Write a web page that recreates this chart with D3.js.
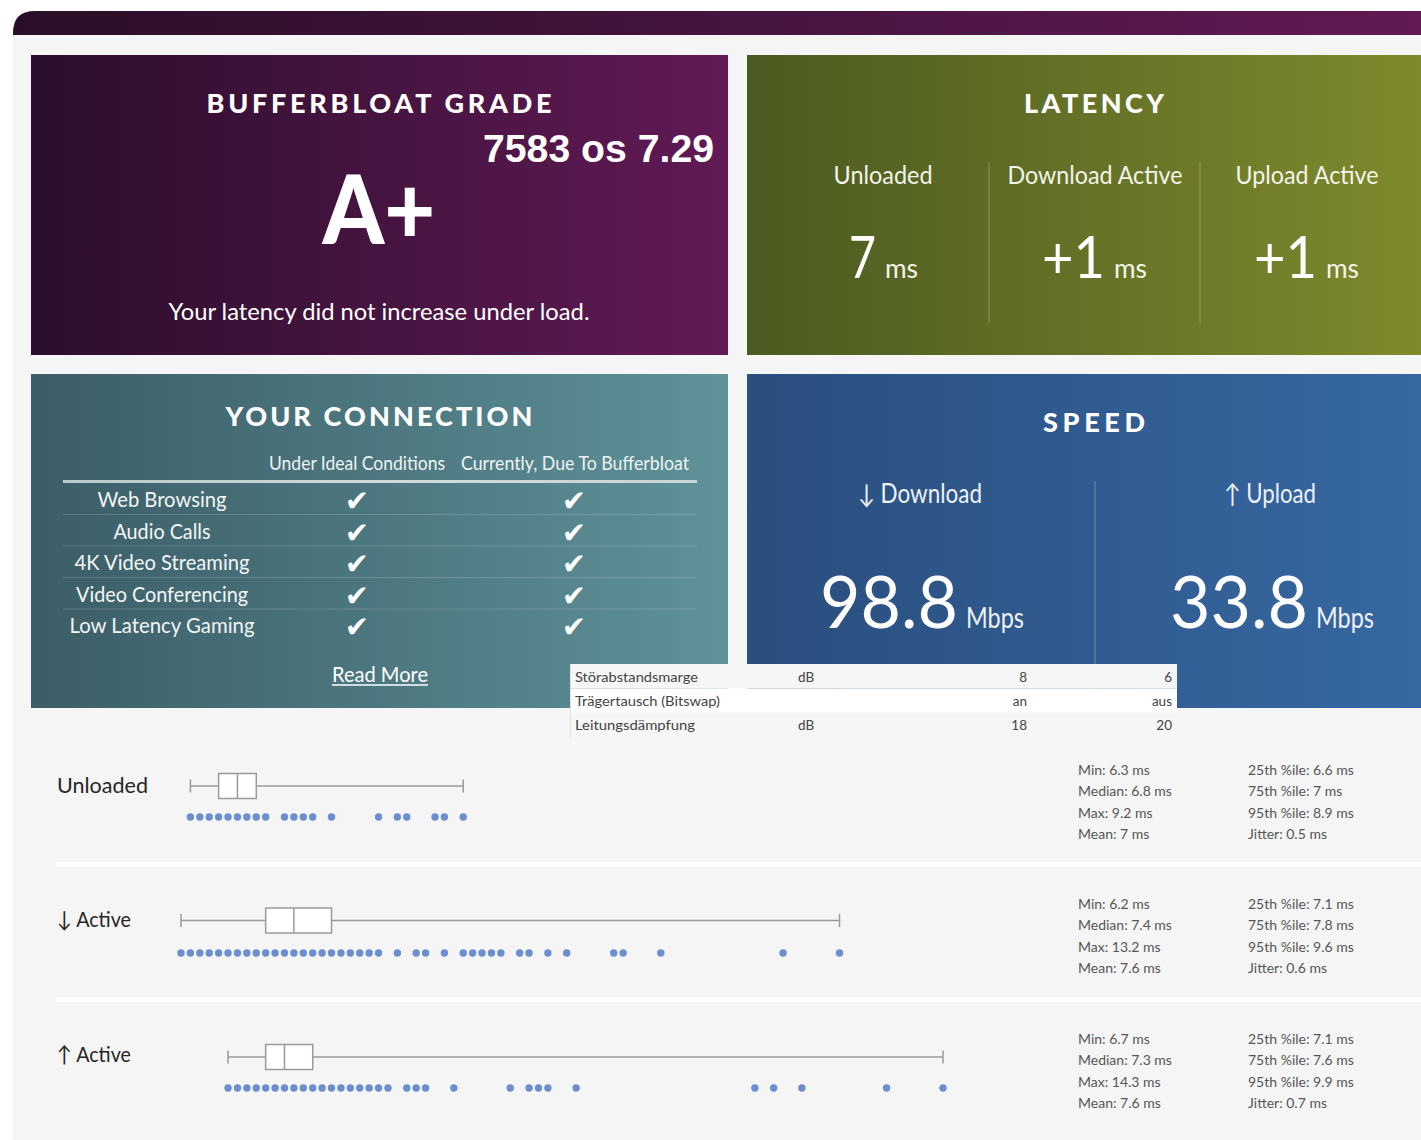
<!DOCTYPE html>
<html><head><meta charset="utf-8">
<script src="https://cdn.jsdelivr.net/npm/d3@7"></script>
<style>html,body{margin:0;padding:0;background:#fff;overflow:hidden}</style>
</head><body><svg id="c" width="1421" height="1140"></svg>
<script>
// ---------------- DATA ----------------
const gradeTitle = "BUFFERBLOAT GRADE";
const gradeLetter = "A+";
const gradeNote = "Your latency did not increase under load.";
const overlayText = "7583 os 7.29";

const latencyTitle = "LATENCY";
const latencyLabels = ["Unloaded", "Download Active", "Upload Active"];
const latencyValues = ["7", "+1", "+1"];
const latencyUnit = "ms";

const connectionTitle = "YOUR CONNECTION";
const connectionHeaders = ["Under Ideal Conditions", "Currently, Due To Bufferbloat"];
const connectionTasks = ["Web Browsing", "Audio Calls", "4K Video Streaming", "Video Conferencing", "Low Latency Gaming"];
const idealOk = [true, true, true, true, true];
const currentOk = [true, true, true, true, true];
const readMore = "Read More";

const speedTitle = "SPEED";
const speedLabels = ["↓ Download", "↑ Upload"];
const speedValues = ["98.8", "33.8"];
const speedUnit = "Mbps";

const lineParams = ["Störabstandsmarge", "Trägertausch (Bitswap)", "Leitungsdämpfung"];
const lineUnits = ["dB", "", "dB"];
const lineDown = ["8", "an", "18"];
const lineUp = ["6", "aus", "20"];

const rowLabels = ["Unloaded", "↓ Active", "↑ Active"];
const unloadedSamples = [6.3, 6.4, 6.5, 6.6, 6.7, 6.8, 6.9, 7.0, 7.1, 7.3, 7.4, 7.5, 7.6, 7.8, 8.3, 8.5, 8.6, 8.9, 9.0, 9.2];
const downloadSamples = [6.2, 6.3, 6.4, 6.5, 6.6, 6.7, 6.8, 6.9, 7.0, 7.1, 7.2, 7.3, 7.4, 7.5, 7.6, 7.7, 7.8, 7.9, 8.0, 8.1, 8.2, 8.3,
  8.5, 8.7, 8.8, 9.0, 9.2, 9.3, 9.4, 9.5, 9.6, 9.8, 9.9, 10.1, 10.3, 10.8, 10.9, 11.3, 12.6, 13.2];
const uploadSamples = [6.7, 6.8, 6.9, 7.0, 7.1, 7.2, 7.3, 7.4, 7.5, 7.6, 7.7, 7.8, 7.9, 8.0, 8.1, 8.2, 8.3, 8.4,
  8.6, 8.7, 8.8, 9.1, 9.7, 9.9, 10.0, 10.1, 10.4, 12.3, 12.5, 12.8, 13.7, 14.3];
const statMin = [6.3, 6.2, 6.7];
const statMedian = [6.8, 7.4, 7.3];
const statMax = [9.2, 13.2, 14.3];
const statMean = [7, 7.6, 7.6];
const statP25 = [6.6, 7.1, 7.1];
const statP75 = [7, 7.8, 7.6];
const statP95 = [8.9, 9.6, 9.9];
const statJitter = [0.5, 0.6, 0.7];

// ---------------- DRAW ----------------
const svg = d3.select("#c");
const F = "Lato, 'Open Sans', sans-serif";
const defs = svg.append("defs");
function grad(id, c0, c1) {
  const g = defs.append("linearGradient").attr("id", id).attr("x1", "0").attr("x2", "1").attr("y1", "0").attr("y2", "0");
  g.append("stop").attr("offset", "0").attr("stop-color", c0);
  g.append("stop").attr("offset", "1").attr("stop-color", c1);
}
grad("gBanner", "#2a0e27", "#611a54");
grad("gGrade", "#2b0e2b", "#611a55");
grad("gLat", "#4b5a21", "#818c2d");
grad("gConn", "#3b5d66", "#5f929a");
grad("gSpeed", "#2a4e7e", "#3769a3");

function T(g, x, y, txt, o = {}) {
  const t = g.append("text").attr("x", x).attr("y", y).text(txt)
    .attr("font-family", o.family || F)
    .attr("font-size", o.size || 16)
    .attr("font-weight", o.weight || 400)
    .attr("fill", o.fill || "#fff")
    .attr("text-anchor", o.anchor || "start");
  if (o.w) t.attr("textLength", o.w).attr("lengthAdjust", o.adj || "spacingAndGlyphs");
  return t;
}

// page background
svg.append("rect").attr("x", 13).attr("y", 30).attr("width", 1408).attr("height", 1110).attr("fill", "#f5f5f5");
svg.append("path").attr("d", "M13,35 L13,33 Q13,11 35,11 L1421,11 L1421,35 Z").attr("fill", "url(#gBanner)");

// ---- Bufferbloat grade card
const g1 = svg.append("g");
g1.append("rect").attr("x", 31).attr("y", 55).attr("width", 697).attr("height", 300).attr("fill", "url(#gGrade)");
T(g1, 379, 113, gradeTitle, {size: 27, weight: 900, anchor: "middle", w: 345, adj: "spacing"});
T(g1, 379, 244, gradeLetter, {size: 96, weight: 900, anchor: "middle", w: 113});
T(g1, 379, 320, gradeNote, {size: 24, anchor: "middle", w: 421});
T(g1, 483, 162, overlayText, {family: "'Liberation Sans', Arial, sans-serif", size: 39, weight: 700, w: 231});

// ---- Latency card
const g2 = svg.append("g");
g2.append("rect").attr("x", 747).attr("y", 55).attr("width", 700).attr("height", 300).attr("fill", "url(#gLat)");
T(g2, 1094, 113, latencyTitle, {size: 27, weight: 900, anchor: "middle", w: 140, adj: "spacing"});
const latCx = d3.scalePoint().domain(latencyLabels).range([883, 1307]);
const latW = [99, 175, 143];
const latNumW = {"7": 27, "+1": 63};
latencyLabels.forEach((l, i) => {
  const cx = latCx(l);
  T(g2, cx, 184, l, {size: 25, anchor: "middle", w: latW[i], fill: "#f4f4ea"});
  const nw = latNumW[latencyValues[i]];
  const total = nw + 8 + 33;
  const x0 = cx - total / 2 + (i === 0 ? 0 : -1);
  T(g2, x0, 278, latencyValues[i], {size: 58, w: nw});
  T(g2, x0 + nw + 9, 278, latencyUnit, {size: 27, w: 33, fill: "#f4f4ea"});
});
[989, 1200].forEach(x => g2.append("line").attr("x1", x).attr("x2", x).attr("y1", 162).attr("y2", 323)
  .attr("stroke", "rgba(255,255,255,0.28)").attr("stroke-width", 1));

// ---- Connection card
const g3 = svg.append("g");
g3.append("rect").attr("x", 31).attr("y", 374).attr("width", 697).attr("height", 334).attr("fill", "url(#gConn)");
T(g3, 379, 426, connectionTitle, {size: 27, weight: 900, anchor: "middle", w: 307, adj: "spacing"});
const colX = [357, 575];
T(g3, colX[0], 470, connectionHeaders[0], {size: 19, anchor: "middle", w: 176, fill: "#eef3f3"});
T(g3, colX[1], 470, connectionHeaders[1], {size: 19, anchor: "middle", w: 228, fill: "#eef3f3"});
const hl = defs.append("linearGradient").attr("id", "gHl");
hl.append("stop").attr("offset", "0").attr("stop-color", "#b9c9cc");
hl.append("stop").attr("offset", "0.5").attr("stop-color", "#cfdadc");
hl.append("stop").attr("offset", "1").attr("stop-color", "#c9d6d9");
g3.append("rect").attr("x", 63).attr("y", 480).attr("width", 634).attr("height", 3).attr("fill", "url(#gHl)");
const rowY = d3.scaleLinear().domain([0, 4]).range([507, 633]);
const taskW = [129, 97, 175, 172, 185];
connectionTasks.forEach((t, i) => {
  T(g3, 162, rowY(i), t, {size: 21, anchor: "middle", w: taskW[i], fill: "#f3f6f6"});
  if (idealOk[i]) T(g3, colX[0], rowY(i) + 4, "✔", {family: "'DejaVu Sans', sans-serif", size: 29, anchor: "middle"});
  if (currentOk[i]) T(g3, colX[1] - 1, rowY(i) + 4, "✔", {family: "'DejaVu Sans', sans-serif", size: 29, anchor: "middle"});
  if (i < 4) g3.append("line").attr("x1", 63).attr("x2", 697).attr("y1", rowY(i) + 7.5).attr("y2", rowY(i) + 7.5)
    .attr("stroke", "rgba(255,255,255,0.16)").attr("stroke-width", 1);
});
T(g3, 380, 682, readMore, {size: 21, anchor: "middle", w: 96});
g3.append("line").attr("x1", 332).attr("x2", 428).attr("y1", 685).attr("y2", 685).attr("stroke", "#fff").attr("stroke-width", 1.5);

// ---- Speed card
const g4 = svg.append("g");
g4.append("rect").attr("x", 747).attr("y", 374).attr("width", 700).attr("height", 334).attr("fill", "url(#gSpeed)");
T(g4, 1094, 432, speedTitle, {size: 27, weight: 900, anchor: "middle", w: 102, adj: "spacing"});
g4.append("line").attr("x1", 1095).attr("x2", 1095).attr("y1", 481).attr("y2", 708).attr("stroke", "rgba(255,255,255,0.3)");
const spCx = [920, 1270];
const spLW = [124, 92];
speedLabels.forEach((l, i) => {
  T(g4, spCx[i], 503, l, {size: 26, anchor: "middle", w: spLW[i], fill: "#eef2f8"});
  const x0 = i === 0 ? 820 : 1170;
  T(g4, x0, 628, speedValues[i], {size: 71, w: 138});
  T(g4, x0 + 146, 628, speedUnit, {size: 28, w: 58, fill: "#eef2f8"});
});

// ---- Overlay table (line parameters)
const g5 = svg.append("g");
const tRowY = d3.scaleBand().domain(d3.range(lineParams.length)).range([664, 737]);
lineParams.forEach((p, i) => {
  const y = tRowY(i);
  g5.append("rect").attr("x", 570).attr("y", y).attr("width", 607).attr("height", tRowY.bandwidth())
    .attr("fill", i % 2 === 0 ? "#f6f6f6" : "#ffffff");
  const by = y + 17.5;
  T(g5, 575, by, p, {size: 13.5, fill: "#444", w: [123, 145, 120][i]});
  T(g5, 798, by, lineUnits[i], {size: 13.5, fill: "#444"});
  T(g5, 1027, by, lineDown[i], {size: 13.5, fill: "#444", anchor: "end"});
  T(g5, 1172, by, lineUp[i], {size: 13.5, fill: "#444", anchor: "end"});
});
g5.append("line").attr("x1", 570.5).attr("x2", 570.5).attr("y1", 664).attr("y2", 737).attr("stroke", "#dedede");

// ---- Latency distribution rows
const g6 = svg.append("g");
const x = d3.scaleLinear().domain([6.2, 14.3]).range([181, 943]);
const samples = [unloadedSamples, downloadSamples, uploadSamples];
const boxY = [786, 920.5, 1057];
const dotY = [817, 953, 1088];
const labelY = [793, 927, 1062];
[864, 999.5].forEach(y => g6.append("rect").attr("x", 56).attr("y", y - 2).attr("width", 1365).attr("height", 4.5).attr("fill", "#ffffff"));
rowLabels.forEach((l, i) => {
  T(g6, 57, labelY[i], l, {size: 22, fill: "#262626", w: i === 0 ? 91 : 74});
  const cy = boxY[i];
  const stroke = "#9a9a9a";
  g6.append("line").attr("x1", x(statMin[i])).attr("x2", x(statMax[i])).attr("y1", cy).attr("y2", cy).attr("stroke", stroke).attr("stroke-width", 1.5);
  [statMin[i], statMax[i]].forEach(v => g6.append("line").attr("x1", x(v)).attr("x2", x(v)).attr("y1", cy - 6.5).attr("y2", cy + 6.5)
    .attr("stroke", stroke).attr("stroke-width", 1.5));
  g6.append("rect").attr("x", x(statP25[i])).attr("y", cy - 12.5).attr("width", x(statP75[i]) - x(statP25[i])).attr("height", 25)
    .attr("fill", "#fff").attr("stroke", stroke).attr("stroke-width", 1.5);
  g6.append("line").attr("x1", x(statMedian[i])).attr("x2", x(statMedian[i])).attr("y1", cy - 12.5).attr("y2", cy + 12.5)
    .attr("stroke", stroke).attr("stroke-width", 1.5);
  g6.selectAll(null).data(samples[i]).enter().append("circle")
    .attr("cx", d => x(d)).attr("cy", dotY[i]).attr("r", 3.7).attr("fill", "#6b8fce");

  const sy = d3.scaleLinear().domain([0, 3]).range([labelY[i] - 18, labelY[i] + 46]);
  const left = [`Min: ${statMin[i]} ms`, `Median: ${statMedian[i]} ms`, `Max: ${statMax[i]} ms`, `Mean: ${statMean[i]} ms`];
  const right = [`25th %ile: ${statP25[i]} ms`, `75th %ile: ${statP75[i]} ms`, `95th %ile: ${statP95[i]} ms`, `Jitter: ${statJitter[i]} ms`];
  left.forEach((s, k) => T(g6, 1078, sy(k), s, {size: 14, fill: "#555"}));
  right.forEach((s, k) => T(g6, 1248, sy(k), s, {size: 14, fill: "#555"}));
});
</script></body></html>
